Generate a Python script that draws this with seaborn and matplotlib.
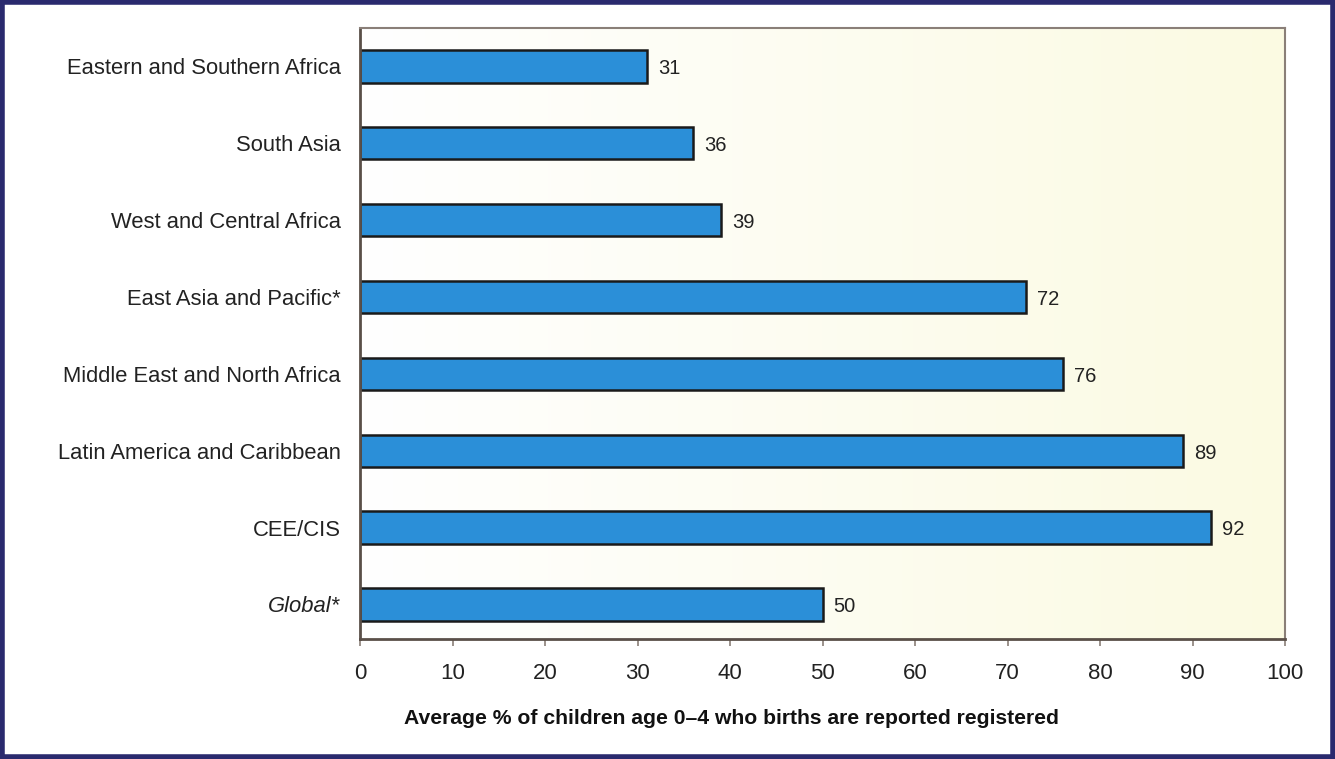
import numpy as np
import pandas as pd
import matplotlib
matplotlib.use("Agg")
import matplotlib.pyplot as plt
from matplotlib.patches import Rectangle
from matplotlib.colors import LinearSegmentedColormap
import seaborn as sns

regions = ["Eastern and Southern Africa", "South Asia", "West and Central Africa",
           "East Asia and Pacific*", "Middle East and North Africa",
           "Latin America and Caribbean", "CEE/CIS", "Global*"]
values = [31, 36, 39, 72, 76, 89, 92, 50]
xticks = [0, 10, 20, 30, 40, 50, 60, 70, 80, 90, 100]
xlabel = "Average % of children age 0\u20134 who births are reported registered"

df = pd.DataFrame({"region": regions, "value": values})

sns.set_theme(style="white")
plt.rcParams['font.family'] = ['Liberation Sans', 'DejaVu Sans']

fig = plt.figure(figsize=(13.35, 7.59), dpi=100)
fig.patch.set_facecolor("white")
ax = fig.add_axes([360/1335, 1-639/759, 925/1335, (639-28)/759])

# gradient background
grad = np.linspace(0, 1, 256).reshape(1, -1)
cmap = LinearSegmentedColormap.from_list("bg", ["#FFFFFF", "#FBFAE2"])
ax.imshow(grad, cmap=cmap, extent=[0, 100, 7.45, -0.5], aspect="auto", zorder=0)

sns.barplot(data=df, x="value", y="region", orient="h", color="#2B8FD8",
            edgecolor="#1a1a1a", linewidth=1.8, width=0.42, ax=ax, zorder=2,
            saturation=1)

for i, v in enumerate(values):
    ax.text(v + 1.2, i + 0.03, str(v), va="center", ha="left", fontsize=14.5, color="#222222")

ax.set_xlim(0, 100)
ax.set_ylim(7.45, -0.5)
ax.set_xticks(xticks)
ax.set_xticklabels([str(t) for t in xticks], fontsize=16, color="#222222")
ax.tick_params(axis="x", length=5, width=1.2, color="#8a7f78", pad=12, direction="out", bottom=True)
ax.tick_params(axis="y", length=0, pad=14)
ax.set_yticks(range(len(regions)))
ax.set_yticklabels(regions, fontsize=15.8, color="#222222")
for lab in ax.get_yticklabels():
    if lab.get_text() == "Global*":
        lab.set_style("italic")
ax.set_ylabel("")
ax.set_xlabel(xlabel, fontsize=15.2, fontweight="bold", color="#111111")
ax.xaxis.set_label_coords(0.402, -0.114)

for s in ax.spines.values():
    s.set_visible(True)
    s.set_color("#8a7f78")
    s.set_linewidth(1.5)
ax.spines["left"].set_color("#5a4f48")
ax.spines["bottom"].set_color("#5a4f48")
ax.spines["left"].set_linewidth(2)
ax.spines["bottom"].set_linewidth(2)

fig.add_artist(Rectangle((0.0015, 0.0025), 0.997, 0.995, transform=fig.transFigure,
                         fill=False, edgecolor="#2A2A6E", linewidth=4))

fig.savefig("out.png", dpi=100)
